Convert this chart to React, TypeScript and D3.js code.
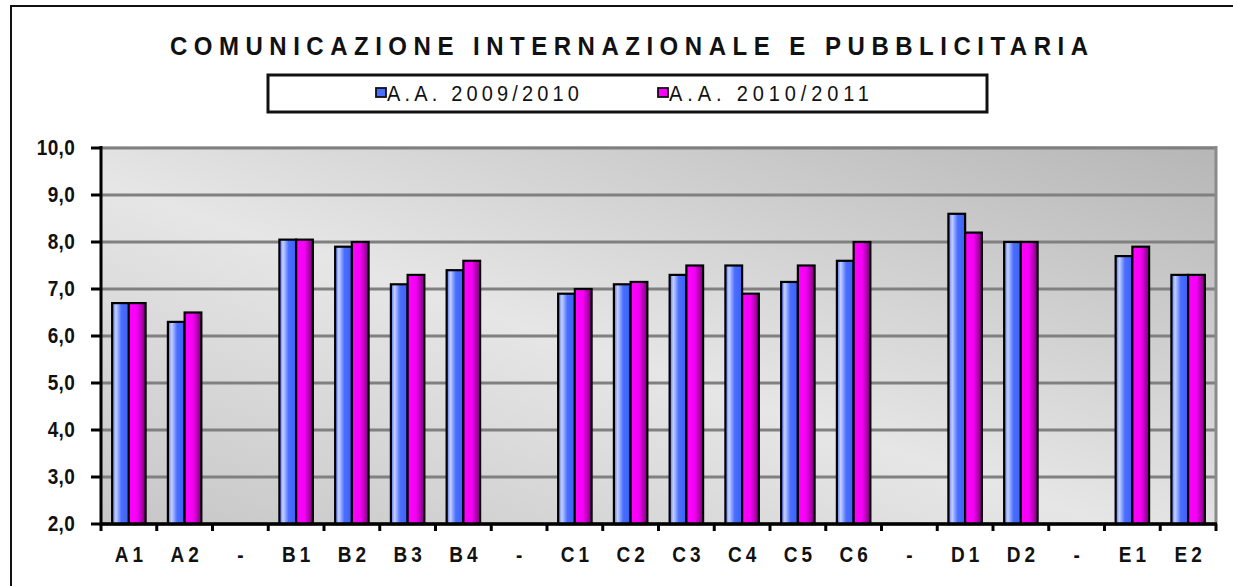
import * as d3 from 'd3';
import React from 'react';

const W = 1233;
const H = 586;
const margin = { top: 148, right: 17, bottom: 62, left: 101 };
const font = '"Liberation Sans", Arial, sans-serif';

const categories = ['A1', 'A2', '-a', 'B1', 'B2', 'B3', 'B4', '-b', 'C1', 'C2', 'C3', 'C4', 'C5', 'C6', '-c', 'D1', 'D2', '-d', 'E1', 'E2'];
const series2009 = [6.7, 6.3, null, 8.05, 7.9, 7.1, 7.4, null, 6.9, 7.1, 7.3, 7.5, 7.15, 7.6, null, 8.6, 8.0, null, 7.7, 7.3];
const series2010 = [6.7, 6.5, null, 8.05, 8.0, 7.3, 7.6, null, 7.0, 7.15, 7.5, 6.9, 7.5, 8.0, null, 8.2, 8.0, null, 7.9, 7.3];
const seriesNames = ['A.A. 2009/2010', 'A.A. 2010/2011'];
const yTicks = [2, 3, 4, 5, 6, 7, 8, 9, 10];

const fmt = (v: number) => v.toFixed(1).replace('.', ',');
const label = (c: string) => (c.startsWith('-') ? '-' : c);

// text is drawn a bit taller than it is wide, like in the original export
function Tall({ x, y, sy = 1.12, children, ...rest }: any) {
  return (
    <g transform={`translate(${x},${y}) scale(1,${sy})`}>
      <text x={0} y={0} fontFamily={font} fill="#111" {...rest}>
        {children}
      </text>
    </g>
  );
}

export default function App() {
  const x0 = d3
    .scaleBand()
    .domain(categories)
    .range([margin.left, W - margin.right])
    .paddingInner(0.4)
    .paddingOuter(0.2);
  const x1 = d3.scaleBand().domain(['a', 'b']).range([0, x0.bandwidth()]);
  const y = d3.scaleLinear().domain([2, 10]).range([H - margin.bottom, margin.top]);
  const step = x0.step();
  const left = margin.left;
  const right = W - margin.right;
  const bottom = y(2);
  const top = y(10);

  return (
    <div style={{ position: 'absolute', left: 0, top: 0 }}>
      <svg width={W} height={H} style={{ display: 'block', background: '#fff' }}>
        <defs>
          <linearGradient id="bg" x1="0" y1="1" x2="1" y2="0">
            <stop offset="0%" stopColor="#c6c6c6" />
            <stop offset="45%" stopColor="#e6e6e6" />
            <stop offset="100%" stopColor="#b6b6b6" />
          </linearGradient>
          <linearGradient id="blue" x1="0" y1="0" x2="1" y2="0">
            <stop offset="0%" stopColor="#4466ff" />
            <stop offset="22%" stopColor="#c6d2ff" />
            <stop offset="55%" stopColor="#4a6fff" />
            <stop offset="100%" stopColor="#3b60f5" />
          </linearGradient>
          <linearGradient id="magenta" x1="0" y1="0" x2="1" y2="0">
            <stop offset="0%" stopColor="#ff00ff" />
            <stop offset="50%" stopColor="#f400f4" />
            <stop offset="100%" stopColor="#780078" />
          </linearGradient>
        </defs>

        {/* outer frame */}
        <rect x={11} y={6} width={W + 20} height={H + 20} fill="none" stroke="#111" strokeWidth={2} />

        <Tall x={170} y={55} sy={1.1} fontWeight="bold" fontSize={24} textLength={918} lengthAdjust="spacing">
          COMUNICAZIONE INTERNAZIONALE E PUBBLICITARIA
        </Tall>

        {/* legend */}
        <rect x={268} y={75} width={719} height={37} fill="#fff" stroke="#111" strokeWidth={3} />
        {seriesNames.map((s, i) => (
          <g key={s} transform={`translate(${376 + i * 282},0)`}>
            <rect x={0} y={88} width={10} height={9} fill={i === 0 ? '#4a6fff' : '#ff00ff'} stroke="#111" strokeWidth={1.8} />
            <Tall x={11} y={101} sy={1.1} fontSize={20} textLength={i === 0 ? 192 : 200} lengthAdjust="spacing">
              {s}
            </Tall>
          </g>
        ))}

        {/* plot area */}
        <rect x={left} y={top - 2} width={right - left} height={bottom - top + 2} fill="url(#bg)" />
        {yTicks.map(t => (
          <line key={t} x1={left} x2={right} y1={y(t)} y2={y(t)} stroke="#808080" strokeWidth={3} />
        ))}
        <line x1={right} x2={right} y1={top - 2} y2={bottom} stroke="#8a8a8a" strokeWidth={3} />

        {categories.map((c, i) => (
          <g key={c} transform={`translate(${x0(c)},0)`}>
            {[series2009[i], series2010[i]].map((v, j) =>
              v == null ? null : (
                <rect
                  key={j}
                  x={x1(j === 0 ? 'a' : 'b')}
                  y={y(v)}
                  width={x1.bandwidth()}
                  height={bottom - y(v)}
                  fill={j === 0 ? 'url(#blue)' : 'url(#magenta)'}
                  stroke="#000"
                  strokeWidth={2.2}
                />
              )
            )}
          </g>
        ))}

        {/* axes */}
        <line x1={left} x2={left} y1={top - 2} y2={bottom + 2} stroke="#000" strokeWidth={3} />
        <line x1={left - 1} x2={right + 1} y1={bottom} y2={bottom} stroke="#000" strokeWidth={3.5} />
        {yTicks.map(t => (
          <g key={t}>
            <line x1={left - 10} x2={left} y1={y(t)} y2={y(t)} stroke="#000" strokeWidth={3} />
            <Tall x={left - 26} y={y(t) + 7} textAnchor="end" fontWeight="bold" fontSize={19} letterSpacing={0.3}>
              {fmt(t)}
            </Tall>
          </g>
        ))}
        {d3.range(categories.length + 1).map(i => (
          <line
            key={i}
            x1={left + i * step}
            x2={left + i * step}
            y1={bottom}
            y2={bottom + 7}
            stroke="#000"
            strokeWidth={3}
          />
        ))}
        {categories.map(c => (
          <Tall
            key={c}
            x={(x0(c) ?? 0) + x0.bandwidth() / 2 + 2}
            y={562}
            textAnchor="middle"
            fontWeight="bold"
            fontSize={19}
            letterSpacing={4}
          >
            {label(c)}
          </Tall>
        ))}
      </svg>
    </div>
  );
}
